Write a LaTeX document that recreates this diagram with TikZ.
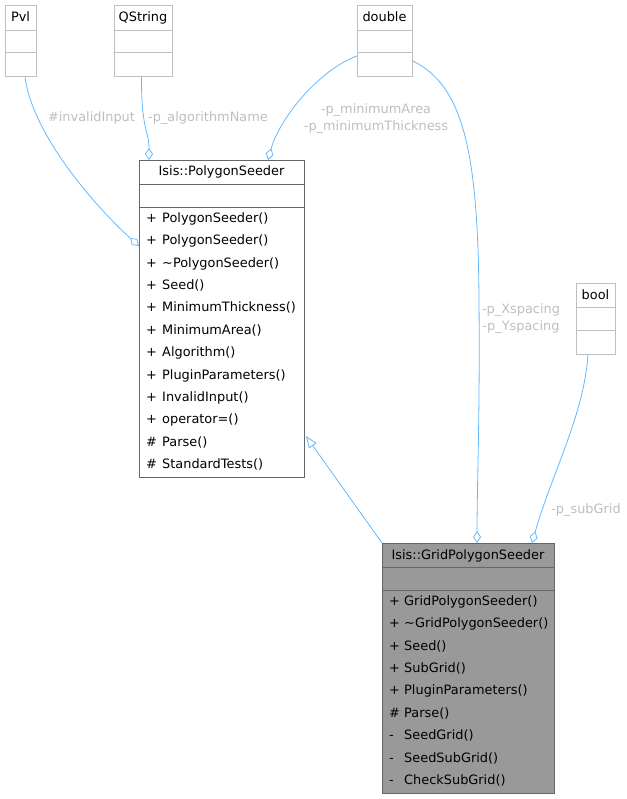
\documentclass[tikz,border=0pt]{standalone}
\usepackage{fontspec}
\setmainfont{DejaVu Sans}
\usetikzlibrary{arrows.meta,calc}
\definecolor{edgec}{HTML}{63B8FF}
\definecolor{lblc}{HTML}{BEBEBE}
\definecolor{lightb}{HTML}{BFBFBF}
\definecolor{darkb}{HTML}{666666}
\definecolor{gridfill}{HTML}{999999}
\tikzset{
  tbox/.style={draw=lightb, line width=0.9pt, fill=white, inner sep=0, anchor=north west},
  cbox/.style={draw=darkb, line width=0.9pt, fill=white, inner sep=0, anchor=north west},
  gbox/.style={draw=darkb, line width=0.9pt, fill=gridfill, inner sep=0, anchor=north west},
  ttl/.style={anchor=mid, inner sep=0},
  mem/.style={anchor=mid west, inner sep=0},
  lbl/.style={text=lblc, inner sep=0, align=center},
  agg/.style={draw=edgec, line width=0.8pt, -{Diamond[open,length=12pt,width=8pt,line width=0.8pt]}},
  inh/.style={draw=edgec, line width=0.8pt, -{Triangle[open,length=12pt,width=9pt,line width=0.8pt]}},
}
\begin{document}
\begin{tikzpicture}[x=1pt,y=-1pt,font=\fontsize{12.9}{16.8}\selectfont]
\useasboundingbox (0,0) rectangle (626,799);
% Pvl
\node[tbox, minimum width=31, minimum height=71] (pvl) at (5,5) {};
\node[ttl] (pvlt) at (20.5,18.5) {Pvl};
\draw[lightb, line width=0.9pt] (5,30) -- (36,30) (5,52) -- (36,52);
% QString
\node[tbox, minimum width=58, minimum height=71] (qs) at (114,5) {};
\node[ttl] (qst) at (143,18.5) {QString};
\draw[lightb, line width=0.9pt] (114,30) -- (172,30) (114,52) -- (172,52);
% double
\node[tbox, minimum width=55, minimum height=71] (dbl) at (357,5) {};
\node[ttl] (dblt) at (384.5,18.5) {double};
\draw[lightb, line width=0.9pt] (357,30) -- (412,30) (357,52) -- (412,52);
% bool
\node[tbox, minimum width=39, minimum height=71] (bool) at (576,283) {};
\node[ttl] (boolt) at (595.5,296.5) {bool};
\draw[lightb, line width=0.9pt] (576,307) -- (615,307) (576,330) -- (615,330);
% PolygonSeeder
\node[cbox, minimum width=165, minimum height=317] (ps) at (139,160) {};
\node[ttl] (pst) at (221.5,173) {Isis::PolygonSeeder};
\draw[darkb, line width=0.9pt] (139,184) -- (304,184) (139,207) -- (304,207);
\foreach \s/\t [count=\i from 0] in {+/PolygonSeeder(), +/PolygonSeeder(), +/\textasciitilde PolygonSeeder(), +/Seed(), +/MinimumThickness(), +/MinimumArea(), +/Algorithm(), +/PluginParameters(), +/InvalidInput(), +/operator=(), \#/Parse(), \#/StandardTests()} {
  \node[mem] (psa\i) at (146,219.5+22.4*\i) {\s};
  \node[mem] (psm\i) at (162,219.5+22.4*\i) {\t};
}
% GridPolygonSeeder
\node[gbox, minimum width=172, minimum height=250] (gps) at (382,543) {};
\node[ttl] (gpst) at (468,557) {Isis::GridPolygonSeeder};
\draw[darkb, line width=0.9pt] (382,567) -- (554,567) (382,590) -- (554,590);
\foreach \s/\t [count=\i from 0] in {+/GridPolygonSeeder(), +/\textasciitilde GridPolygonSeeder(), +/Seed(), +/SubGrid(), +/PluginParameters(), \#/Parse(), -/SeedGrid(), -/SeedSubGrid(), -/CheckSubGrid()} {
  \node[mem] (gpa\i) at (389,602.5+22.4*\i) {\s};
  \node[mem] (gpm\i) at (404,602.5+22.4*\i) {\t};
}
% connectors
\draw[agg] ($(pvl.south)+(4,0)$) .. controls ($(pvl.south)+(12,60)$) and ($(ps.north west)+(-40,50)$) .. ($(ps.north west)+(0,86)$);
\draw[agg] ($(qs.south)+(-2,0)$) .. controls ($(qs.south)+(-2,55)$) and ($(ps.north west)+(10,-30)$) .. ($(ps.north west)+(10,0)$);
\draw[agg] ($(dbl.west)+(0,15)$) .. controls ($(dbl.west)+(-40,30)$) and ($(ps.north west)+(140,-40)$) .. ($(ps.north west)+(129,0)$);
\draw[agg] ($(dbl.east)+(0,20)$) .. controls ($(dbl.east)+(50,45)$) and (478,150) .. (479,300) .. controls (480,420) and ($(gps.north west)+(95,-60)$) .. ($(gps.north west)+(95,0)$);
\draw[agg] ($(bool.south)+(-8,0)$) .. controls ($(bool.south)+(-12,60)$) and ($(gps.north west)+(170,-70)$) .. ($(gps.north west)+(150,0)$);
\draw[inh] (gps.north west) -- ($(ps.north east)+(1,276)$);
% labels
\node[lbl] (l1) at (91.5,118) {\#invalidInput};
\node[lbl] (l2) at (208,118) {-p\_algorithmName};
\node[lbl] (l3) at (376,119) {-p\_minimumArea\\-p\_minimumThickness};
\node[lbl] (l4) at (521,319) {-p\_Xspacing\\-p\_Yspacing};
\node[lbl] (l5) at (586,510) {-p\_subGrid};
\end{tikzpicture}
\end{document}
